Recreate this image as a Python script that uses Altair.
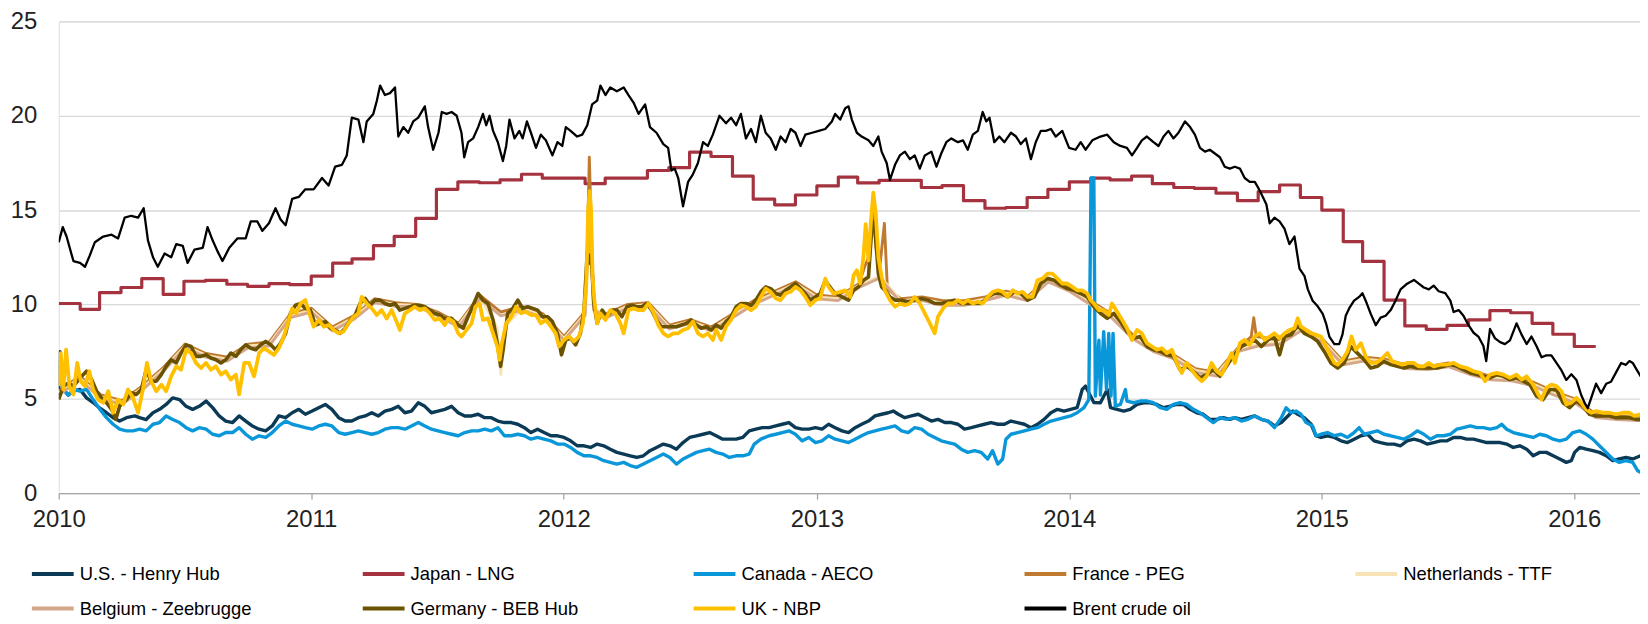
import altair as alt
import numpy as np
import pandas as pd

SERIES = ["U.S. - Henry Hub", "Japan - LNG", "Canada - AECO", "France - PEG",
          "Netherlands - TTF", "Belgium - Zeebrugge", "Germany - BEB Hub",
          "UK - NBP", "Brent crude oil"]
COLORS = ["#0B3A56", "#A5333F", "#0A97D9", "#C07A30", "#F7E3B5",
          "#D4A68A", "#6A5200", "#FFC000", "#000000"]

# (decimal year, value) readings
brent = [
 (2010.000,13.3),(2010.016,14.1),(2010.031,13.6),(2010.058,12.3),(2010.084,12.2),(2010.104,12.0),
 (2010.123,12.6),(2010.143,13.3),(2010.176,13.6),(2010.209,13.7),(2010.235,13.5),(2010.261,14.6),
 (2010.287,14.7),(2010.314,14.6),(2010.336,15.1),(2010.353,13.4),(2010.373,12.5),(2010.392,12.0),
 (2010.419,12.7),(2010.445,12.5),(2010.465,13.2),(2010.491,13.1),(2010.510,12.2),(2010.537,12.9),
 (2010.570,13.0),(2010.589,14.1),(2010.609,13.4),(2010.629,12.8),(2010.648,12.3),(2010.675,13.0),
 (2010.707,13.5),(2010.740,13.5),(2010.760,14.4),(2010.786,14.4),(2010.806,13.9),(2010.832,14.3),
 (2010.858,15.1),(2010.878,14.5),(2010.898,14.2),(2010.924,15.6),(2010.950,15.7),(2010.976,16.1),
 (2011.009,16.1),(2011.042,16.7),(2011.068,16.3),(2011.094,17.3),(2011.121,17.4),(2011.140,17.9),
 (2011.160,19.9),(2011.186,19.8),(2011.206,18.6),(2011.219,19.7),(2011.245,20.1),(2011.259,20.8),
 (2011.272,21.6),(2011.291,21.1),(2011.311,21.2),(2011.331,21.5),(2011.344,18.9),(2011.364,19.4),
 (2011.383,19.1),(2011.403,19.7),(2011.423,19.9),(2011.449,20.5),(2011.462,19.4),(2011.482,18.2),
 (2011.503,19.1),(2011.516,20.2),(2011.535,20.1),(2011.555,20.2),(2011.575,20.0),(2011.594,19.1),
 (2011.605,17.8),(2011.620,18.6),(2011.640,18.8),(2011.660,19.4),(2011.679,20.1),(2011.692,19.5),
 (2011.705,20.0),(2011.719,19.2),(2011.738,18.6),(2011.758,17.6),(2011.771,18.4),(2011.784,19.8),
 (2011.804,18.8),(2011.823,19.2),(2011.836,18.8),(2011.853,19.7),(2011.869,19.1),(2011.889,18.3),
 (2011.908,19.0),(2011.928,18.7),(2011.954,17.9),(2011.974,18.6),(2011.993,18.4),(2012.007,19.4),
 (2012.026,19.2),(2012.052,18.9),(2012.072,19.0),(2012.092,19.5),(2012.111,20.6),(2012.131,20.8),
 (2012.144,21.6),(2012.164,21.1),(2012.183,21.5),(2012.209,21.3),(2012.236,21.5),(2012.255,21.1),
 (2012.275,20.7),(2012.295,20.1),(2012.321,20.6),(2012.340,19.4),(2012.366,19.1),(2012.393,18.5),
 (2012.412,18.3),(2012.425,17.1),(2012.438,17.2),(2012.452,16.7),(2012.471,15.2),(2012.491,16.5),
 (2012.510,16.9),(2012.530,17.5),(2012.550,18.6),(2012.569,18.4),(2012.589,19.0),(2012.615,20.0),
 (2012.641,19.6),(2012.661,19.9),(2012.681,19.5),(2012.700,20.1),(2012.720,18.8),(2012.740,19.3),
 (2012.759,18.6),(2012.779,20.0),(2012.798,19.1),(2012.818,18.8),(2012.838,18.2),(2012.857,18.9),
 (2012.877,18.6),(2012.897,19.3),(2012.916,19.1),(2012.936,18.4),(2012.955,19.0),(2012.982,19.1),
 (2013.008,19.2),(2013.034,19.3),(2013.060,19.7),(2013.073,20.1),(2013.093,19.8),(2013.113,20.4),
 (2013.126,20.5),(2013.139,19.8),(2013.159,19.1),(2013.178,18.9),(2013.205,18.7),(2013.224,18.4),
 (2013.244,18.9),(2013.257,18.1),(2013.277,17.5),(2013.290,16.6),(2013.310,17.4),(2013.329,17.9),
 (2013.349,18.1),(2013.369,17.7),(2013.388,17.9),(2013.408,17.2),(2013.428,17.9),(2013.454,18.1),
 (2013.474,17.3),(2013.493,18.0),(2013.513,18.6),(2013.533,18.8),(2013.559,18.6),(2013.579,18.7),
 (2013.598,18.2),(2013.618,19.0),(2013.638,19.2),(2013.657,20.2),(2013.671,19.7),(2013.684,19.9),
 (2013.703,18.6),(2013.723,18.9),(2013.743,18.6),(2013.769,19.1),(2013.789,18.9),(2013.808,18.5),
 (2013.828,18.8),(2013.848,17.7),(2013.867,18.6),(2013.887,19.2),(2013.907,19.2),(2013.927,19.3),
 (2013.946,18.9),(2013.972,19.2),(2013.999,18.3),(2014.025,18.2),(2014.045,18.6),(2014.064,18.2),
 (2014.091,18.7),(2014.123,18.9),(2014.150,19.0),(2014.176,18.6),(2014.202,18.4),(2014.228,18.3),
 (2014.248,17.9),(2014.268,18.3),(2014.287,18.7),(2014.307,18.9),(2014.333,18.6),(2014.353,18.4),
 (2014.373,18.9),(2014.392,19.2),(2014.412,18.8),(2014.432,19.1),(2014.458,19.7),(2014.478,19.4),
 (2014.497,19.0),(2014.517,18.3),(2014.537,18.1),(2014.556,18.2),(2014.576,18.0),(2014.596,17.8),
 (2014.615,17.3),(2014.635,17.2),(2014.655,17.3),(2014.675,17.2),(2014.694,16.7),(2014.714,16.5),
 (2014.734,16.5),(2014.747,16.2),(2014.766,15.7),(2014.780,15.3),(2014.793,14.3),(2014.812,14.6),
 (2014.832,14.4),(2014.852,14.0),(2014.871,13.2),(2014.891,13.6),(2014.911,11.9),(2014.931,11.5),
 (2014.944,10.8),(2014.963,10.2),(2014.983,9.9),(2015.003,9.5),(2015.016,9.0),(2015.029,8.3),
 (2015.049,7.9),(2015.068,7.9),(2015.081,8.4),(2015.094,9.4),(2015.108,9.8),(2015.127,10.2),
 (2015.147,10.4),(2015.160,10.6),(2015.173,10.2),(2015.193,9.5),(2015.213,8.9),(2015.232,9.3),
 (2015.252,9.4),(2015.272,9.7),(2015.291,10.2),(2015.311,10.8),(2015.337,11.1),(2015.364,11.3),
 (2015.383,11.1),(2015.403,10.9),(2015.423,10.8),(2015.442,11.0),(2015.462,10.7),(2015.488,10.6),
 (2015.508,10.2),(2015.521,9.6),(2015.541,9.7),(2015.560,9.4),(2015.580,8.9),(2015.600,8.5),
 (2015.619,8.3),(2015.639,7.8),(2015.650,7.0),(2015.665,8.7),(2015.685,8.2),(2015.705,8.0),
 (2015.724,7.9),(2015.744,8.1),(2015.770,9.0),(2015.790,8.4),(2015.810,7.9),(2015.829,8.3),
 (2015.849,7.8),(2015.869,7.2),(2015.888,7.3),(2015.908,7.3),(2015.928,6.9),(2015.948,6.5),
 (2015.967,6.0),(2015.987,6.3),(2016.007,6.0),(2016.026,5.2),(2016.039,4.8),(2016.052,4.5),
 (2016.072,5.3),(2016.085,5.8),(2016.105,5.3),(2016.125,5.8),(2016.144,5.9),(2016.164,6.4),
 (2016.184,6.9),(2016.203,6.8),(2016.217,7.0),(2016.230,6.9),(2016.243,6.6),(2016.261,6.2),
 (2016.280,6.0)]

henry_hub = [
 (2010.000,5.5),(2010.005,7.5),(2010.018,5.5),(2010.038,5.2),(2010.058,5.4),(2010.084,5.5),
 (2010.110,5.05),(2010.136,4.8),(2010.163,4.5),(2010.189,4.26),(2010.215,4.0),(2010.241,3.82),
 (2010.268,4.0),(2010.301,4.09),(2010.320,4.0),(2010.346,3.9),(2010.373,4.26),(2010.399,4.44),
 (2010.425,4.7),(2010.451,5.05),(2010.478,4.96),(2010.504,4.6),(2010.530,4.44),(2010.556,4.6),
 (2010.583,4.88),(2010.609,4.53),(2010.635,4.09),(2010.661,3.82),(2010.688,3.74),(2010.714,4.09),
 (2010.740,3.82),(2010.766,3.56),(2010.793,3.39),(2010.819,3.3),(2010.845,3.56),(2010.871,4.09),
 (2010.898,4.0),(2010.924,4.26),(2010.950,4.44),(2010.976,4.18),(2011.003,4.35),(2011.029,4.53),
 (2011.055,4.7),(2011.081,4.44),(2011.108,4.0),(2011.134,3.82),(2011.160,3.82),(2011.186,4.0),
 (2011.213,4.09),(2011.239,4.26),(2011.265,4.09),(2011.291,4.35),(2011.318,4.44),(2011.344,4.6),
 (2011.370,4.26),(2011.396,4.35),(2011.423,4.79),(2011.449,4.6),(2011.475,4.26),(2011.501,4.35),
 (2011.528,4.44),(2011.555,4.6),(2011.581,4.26),(2011.607,4.09),(2011.634,4.09),(2011.660,4.18),
 (2011.686,4.0),(2011.712,4.0),(2011.738,3.82),(2011.764,3.74),(2011.791,3.74),(2011.817,3.65),
 (2011.843,3.47),(2011.869,3.21),(2011.895,3.39),(2011.921,3.21),(2011.948,3.04),(2011.974,3.04),
 (2012.000,2.95),(2012.026,2.77),(2012.052,2.51),(2012.079,2.51),(2012.105,2.42),(2012.131,2.6),
 (2012.157,2.51),(2012.183,2.33),(2012.209,2.16),(2012.236,2.07),(2012.262,1.98),(2012.288,1.89),
 (2012.314,1.98),(2012.340,2.25),(2012.366,2.42),(2012.393,2.6),(2012.419,2.51),(2012.445,2.33),
 (2012.471,2.68),(2012.497,2.95),(2012.524,3.04),(2012.550,3.12),(2012.576,3.21),(2012.602,3.04),
 (2012.628,2.86),(2012.654,2.86),(2012.681,2.86),(2012.707,2.95),(2012.733,3.3),(2012.759,3.39),
 (2012.785,3.47),(2012.812,3.47),(2012.838,3.56),(2012.864,3.65),(2012.890,3.74),(2012.916,3.47),
 (2012.942,3.39),(2012.969,3.39),(2012.995,3.47),(2013.021,3.39),(2013.047,3.65),(2013.073,3.47),
 (2013.100,3.3),(2013.126,3.21),(2013.152,3.47),(2013.178,3.65),(2013.205,3.82),(2013.231,4.09),
 (2013.257,4.18),(2013.283,4.26),(2013.303,4.35),(2013.323,4.18),(2013.349,4.0),(2013.375,4.09),
 (2013.402,4.18),(2013.428,4.0),(2013.454,3.82),(2013.480,3.91),(2013.507,3.74),(2013.533,3.74),
 (2013.559,3.65),(2013.585,3.39),(2013.612,3.47),(2013.638,3.56),(2013.664,3.65),(2013.690,3.74),
 (2013.717,3.65),(2013.743,3.65),(2013.769,3.82),(2013.795,3.74),(2013.822,3.65),(2013.848,3.47),
 (2013.874,3.65),(2013.900,3.91),(2013.927,4.26),(2013.953,4.44),(2013.979,4.35),(2014.005,4.44),
 (2014.031,4.53),(2014.051,5.49),(2014.064,5.67),(2014.077,5.32),(2014.097,4.8),(2014.123,4.79),
 (2014.150,5.49),(2014.163,4.53),(2014.189,4.44),(2014.215,4.35),(2014.241,4.44),(2014.268,4.7),
 (2014.294,4.79),(2014.320,4.79),(2014.346,4.7),(2014.373,4.53),(2014.399,4.61),(2014.425,4.7),
 (2014.451,4.7),(2014.478,4.44),(2014.504,4.26),(2014.530,4.18),(2014.556,3.91),(2014.583,3.91),
 (2014.609,4.0),(2014.635,3.91),(2014.655,4.0),(2014.681,3.91),(2014.707,4.0),(2014.734,4.09),
 (2014.760,3.91),(2014.786,3.82),(2014.812,3.56),(2014.839,3.74),(2014.865,4.09),(2014.885,4.35),
 (2014.904,4.18),(2014.930,4.0),(2014.957,3.65),(2014.976,3.04),(2014.996,2.95),(2015.022,3.04),
 (2015.049,2.95),(2015.075,2.77),(2015.101,2.68),(2015.127,2.86),(2015.154,3.04),(2015.180,3.12),
 (2015.206,2.77),(2015.232,2.68),(2015.259,2.6),(2015.285,2.6),(2015.311,2.51),(2015.337,2.77),
 (2015.364,2.86),(2015.390,2.77),(2015.416,2.6),(2015.442,2.68),(2015.469,2.77),(2015.495,2.77),
 (2015.521,2.95),(2015.547,2.95),(2015.573,2.86),(2015.600,2.86),(2015.626,2.77),(2015.652,2.68),
 (2015.678,2.68),(2015.705,2.68),(2015.731,2.6),(2015.757,2.42),(2015.783,2.51),(2015.810,2.33),
 (2015.836,1.98),(2015.862,2.16),(2015.888,2.16),(2015.915,1.98),(2015.941,1.81),(2015.967,1.63),
 (2015.987,1.72),(2016.000,2.16),(2016.020,2.42),(2016.046,2.33),(2016.072,2.25),(2016.098,2.16),
 (2016.125,1.98),(2016.151,1.72),(2016.177,1.81),(2016.203,1.89),(2016.230,1.81),(2016.261,1.98),
 (2016.280,1.98)]

aeco = [
 (2010.000,5.2),(2010.018,5.5),(2010.038,5.2),(2010.058,5.5),(2010.084,5.4),(2010.110,5.5),
 (2010.136,4.96),(2010.163,4.44),(2010.189,4.0),(2010.215,3.65),(2010.241,3.39),(2010.268,3.3),
 (2010.294,3.3),(2010.320,3.39),(2010.346,3.3),(2010.373,3.65),(2010.399,3.74),(2010.425,4.09),
 (2010.451,3.9),(2010.478,3.74),(2010.504,3.47),(2010.530,3.3),(2010.556,3.47),(2010.583,3.39),
 (2010.609,3.12),(2010.635,3.04),(2010.661,3.21),(2010.688,3.21),(2010.714,3.47),(2010.740,3.12),
 (2010.766,2.86),(2010.793,3.04),(2010.819,2.95),(2010.845,3.21),(2010.871,3.56),(2010.898,3.82),
 (2010.924,3.65),(2010.950,3.56),(2010.976,3.47),(2011.003,3.39),(2011.029,3.56),(2011.055,3.65),
 (2011.081,3.56),(2011.108,3.21),(2011.134,3.12),(2011.160,3.21),(2011.186,3.3),(2011.213,3.21),
 (2011.239,3.12),(2011.265,3.21),(2011.291,3.39),(2011.318,3.47),(2011.344,3.47),(2011.370,3.39),
 (2011.396,3.56),(2011.423,3.74),(2011.449,3.56),(2011.475,3.39),(2011.501,3.3),(2011.528,3.21),
 (2011.555,3.12),(2011.581,3.04),(2011.607,3.21),(2011.634,3.3),(2011.660,3.3),(2011.686,3.39),
 (2011.712,3.3),(2011.738,3.47),(2011.764,3.04),(2011.791,3.04),(2011.817,3.12),(2011.843,3.04),
 (2011.869,2.86),(2011.895,2.95),(2011.921,2.86),(2011.948,2.77),(2011.974,2.6),(2012.000,2.6),
 (2012.026,2.42),(2012.052,2.16),(2012.079,1.98),(2012.105,1.98),(2012.131,1.89),(2012.157,1.72),
 (2012.183,1.63),(2012.209,1.54),(2012.236,1.63),(2012.262,1.46),(2012.288,1.37),(2012.314,1.54),
 (2012.340,1.72),(2012.366,1.89),(2012.393,2.07),(2012.419,1.89),(2012.445,1.54),(2012.471,1.81),
 (2012.497,1.98),(2012.524,2.16),(2012.550,2.25),(2012.576,2.33),(2012.602,2.16),(2012.628,2.07),
 (2012.654,1.89),(2012.681,1.98),(2012.707,1.98),(2012.733,2.07),(2012.753,2.6),(2012.779,2.86),
 (2012.812,3.04),(2012.838,3.12),(2012.864,3.21),(2012.890,3.3),(2012.916,3.12),(2012.942,2.77),
 (2012.969,2.95),(2012.995,2.68),(2013.021,2.77),(2013.047,3.04),(2013.073,2.86),(2013.100,2.77),
 (2013.126,2.68),(2013.152,2.86),(2013.178,3.04),(2013.205,3.21),(2013.231,3.3),(2013.257,3.39),
 (2013.283,3.47),(2013.310,3.56),(2013.336,3.3),(2013.362,3.21),(2013.388,3.47),(2013.415,3.39),
 (2013.441,3.12),(2013.467,2.95),(2013.493,2.77),(2013.520,2.68),(2013.546,2.6),(2013.572,2.33),
 (2013.598,2.16),(2013.625,2.25),(2013.651,2.16),(2013.677,1.81),(2013.696,2.25),(2013.717,1.54),
 (2013.736,1.81),(2013.749,2.86),(2013.769,3.12),(2013.795,3.21),(2013.822,3.3),(2013.848,3.39),
 (2013.874,3.47),(2013.900,3.65),(2013.927,3.82),(2013.953,3.91),(2013.979,4.0),(2014.005,4.09),
 (2014.031,4.26),(2014.058,4.53),(2014.077,4.96),(2014.086,16.7),(2014.097,16.7),(2014.103,5.14),
 (2014.117,8.1),(2014.123,5.2),(2014.136,8.56),(2014.147,5.5),(2014.156,8.47),(2014.165,5.14),
 (2014.173,8.47),(2014.182,4.61),(2014.202,4.7),(2014.222,5.49),(2014.228,4.88),(2014.255,4.79),
 (2014.281,4.88),(2014.307,4.88),(2014.333,4.79),(2014.360,4.53),(2014.386,4.44),(2014.412,4.7),
 (2014.438,4.79),(2014.465,4.7),(2014.491,4.44),(2014.517,4.26),(2014.543,4.0),(2014.570,3.74),
 (2014.596,4.0),(2014.622,3.91),(2014.655,4.0),(2014.681,3.82),(2014.707,3.91),(2014.734,4.09),
 (2014.760,3.91),(2014.786,3.82),(2014.812,3.47),(2014.839,4.0),(2014.858,4.53),(2014.878,4.26),
 (2014.898,4.35),(2014.917,4.18),(2014.937,3.74),(2014.963,3.56),(2014.976,3.04),(2014.996,3.12),
 (2015.022,3.21),(2015.049,3.04),(2015.075,3.12),(2015.101,2.95),(2015.127,3.21),(2015.147,3.47),
 (2015.167,3.12),(2015.193,3.21),(2015.219,3.3),(2015.245,3.12),(2015.272,3.04),(2015.298,2.95),
 (2015.324,2.86),(2015.350,3.04),(2015.377,3.3),(2015.403,3.12),(2015.429,2.86),(2015.455,3.04),
 (2015.482,3.04),(2015.508,3.12),(2015.534,3.39),(2015.560,3.47),(2015.587,3.56),(2015.613,3.47),
 (2015.639,3.47),(2015.665,3.39),(2015.692,3.47),(2015.711,3.65),(2015.731,3.39),(2015.757,3.21),
 (2015.783,3.12),(2015.810,3.04),(2015.836,2.95),(2015.862,3.12),(2015.888,3.04),(2015.915,2.86),
 (2015.941,2.77),(2015.967,2.86),(2015.993,3.21),(2016.020,3.3),(2016.046,3.12),(2016.072,2.86),
 (2016.098,2.51),(2016.125,2.16),(2016.151,1.81),(2016.177,1.63),(2016.203,1.72),(2016.230,1.63),
 (2016.249,1.19),(2016.261,1.1),(2016.280,1.1)]

uk_nbp = [
 (2010.000,5.67),(2010.008,7.42),(2010.018,5.49),(2010.029,7.6),(2010.042,5.67),(2010.058,5.23),
 (2010.073,6.9),(2010.087,5.93),(2010.104,5.67),(2010.121,6.46),(2010.136,5.49),(2010.156,4.96),
 (2010.176,4.79),(2010.196,5.4),(2010.215,4.26),(2010.235,4.96),(2010.255,4.7),(2010.274,5.49),
 (2010.294,5.05),(2010.314,4.26),(2010.333,5.49),(2010.349,6.9),(2010.366,5.93),(2010.386,5.4),
 (2010.406,5.75),(2010.425,5.4),(2010.445,6.19),(2010.465,6.72),(2010.484,6.54),(2010.504,7.6),
 (2010.524,7.42),(2010.543,6.9),(2010.563,6.63),(2010.583,6.9),(2010.602,6.54),(2010.622,6.72),
 (2010.642,6.28),(2010.661,6.46),(2010.681,6.02),(2010.701,6.28),(2010.714,5.23),(2010.734,6.9),
 (2010.753,6.9),(2010.773,6.19),(2010.793,7.42),(2010.812,7.68),(2010.832,7.51),(2010.852,7.33),
 (2010.871,7.68),(2010.891,8.3),(2010.911,9.18),(2010.924,9.79),(2010.940,9.53),(2010.957,10.05),
 (2010.976,10.23),(2010.996,9.35),(2011.009,8.82),(2011.029,9.18),(2011.049,8.82),(2011.068,8.91),
 (2011.088,8.65),(2011.108,8.47),(2011.127,8.56),(2011.147,9.0),(2011.167,9.35),(2011.186,9.53),
 (2011.199,10.4),(2011.219,10.05),(2011.239,9.79),(2011.259,9.44),(2011.278,9.7),(2011.298,9.26),
 (2011.318,9.7),(2011.337,9.09),(2011.350,8.65),(2011.370,9.53),(2011.390,9.7),(2011.409,9.88),
 (2011.429,9.7),(2011.449,9.79),(2011.469,9.53),(2011.488,9.18),(2011.508,9.26),(2011.528,8.91),
 (2011.542,9.26),(2011.562,9.09),(2011.581,8.47),(2011.594,8.3),(2011.614,8.65),(2011.634,9.0),
 (2011.649,9.88),(2011.666,10.05),(2011.679,9.18),(2011.699,9.26),(2011.719,8.47),(2011.736,7.77),
 (2011.745,7.07),(2011.754,7.95),(2011.771,9.0),(2011.791,9.35),(2011.810,9.88),(2011.830,9.53),
 (2011.849,9.61),(2011.869,9.44),(2011.889,9.44),(2011.908,9.0),(2011.928,9.18),(2011.948,8.82),
 (2011.967,8.47),(2011.980,7.77),(2012.000,8.12),(2012.020,8.3),(2012.039,8.04),(2012.059,8.3),
 (2012.075,9.0),(2012.088,11.1),(2012.096,15.2),(2012.102,16.0),(2012.107,14.96),(2012.113,11.46),
 (2012.120,10.23),(2012.131,9.0),(2012.144,9.53),(2012.164,9.18),(2012.183,9.7),(2012.203,9.53),
 (2012.223,9.0),(2012.236,8.47),(2012.255,9.7),(2012.275,9.79),(2012.295,9.7),(2012.314,9.7),
 (2012.334,10.05),(2012.353,9.61),(2012.373,8.91),(2012.393,8.47),(2012.412,8.3),(2012.432,8.47),
 (2012.452,8.47),(2012.471,8.65),(2012.491,8.74),(2012.510,9.09),(2012.530,8.47),(2012.550,8.3),
 (2012.569,8.47),(2012.589,8.12),(2012.602,8.65),(2012.622,8.12),(2012.641,8.82),(2012.661,9.18),
 (2012.681,9.7),(2012.700,9.96),(2012.720,9.88),(2012.740,9.7),(2012.759,9.88),(2012.779,10.4),
 (2012.798,10.84),(2012.818,10.67),(2012.838,10.32),(2012.857,10.23),(2012.877,10.58),(2012.897,10.67),
 (2012.916,10.93),(2012.936,10.75),(2012.955,10.4),(2012.975,9.96),(2012.995,10.23),(2013.014,10.32),
 (2013.034,11.37),(2013.047,10.93),(2013.067,10.58),(2013.093,10.67),(2013.113,10.75),(2013.133,10.4),
 (2013.146,11.54),(2013.159,11.81),(2013.172,11.11),(2013.185,12.51),(2013.194,14.26),(2013.205,12.33),
 (2013.215,14.44),(2013.224,15.93),(2013.234,14.79),(2013.244,12.51),(2013.257,11.46),(2013.270,10.75),
 (2013.290,10.23),(2013.310,9.88),(2013.329,10.05),(2013.349,9.96),(2013.369,10.05),(2013.388,10.4),
 (2013.408,10.05),(2013.428,9.53),(2013.448,9.0),(2013.467,8.47),(2013.480,9.35),(2013.500,9.79),
 (2013.520,10.05),(2013.539,10.05),(2013.559,10.23),(2013.579,10.05),(2013.598,10.23),(2013.618,10.05),
 (2013.638,10.14),(2013.657,10.05),(2013.677,10.4),(2013.697,10.67),(2013.717,10.75),(2013.736,10.67),
 (2013.756,10.4),(2013.776,10.75),(2013.795,10.58),(2013.815,10.67),(2013.835,10.4),(2013.854,10.4),
 (2013.874,11.28),(2013.894,11.37),(2013.913,11.63),(2013.933,11.63),(2013.953,11.37),(2013.972,11.11),
 (2013.992,11.11),(2014.012,10.93),(2014.031,10.75),(2014.051,10.75),(2014.071,10.58),(2014.084,10.23),
 (2014.097,10.05),(2014.117,9.7),(2014.136,9.7),(2014.156,9.44),(2014.169,10.05),(2014.189,9.61),
 (2014.209,9.18),(2014.228,8.74),(2014.248,8.12),(2014.268,8.65),(2014.287,8.47),(2014.307,7.95),
 (2014.327,7.77),(2014.346,7.6),(2014.366,7.68),(2014.386,7.42),(2014.406,7.6),(2014.425,6.9),
 (2014.445,6.37),(2014.465,6.9),(2014.484,6.54),(2014.504,6.19),(2014.524,5.93),(2014.543,6.19),
 (2014.563,6.9),(2014.583,6.46),(2014.602,6.28),(2014.622,6.81),(2014.642,7.42),(2014.655,6.9),
 (2014.675,7.95),(2014.694,8.12),(2014.714,7.86),(2014.734,8.3),(2014.753,8.47),(2014.773,8.12),
 (2014.793,8.3),(2014.812,8.47),(2014.832,8.21),(2014.852,8.47),(2014.871,8.65),(2014.891,8.74),
 (2014.904,9.26),(2014.917,8.82),(2014.937,8.65),(2014.957,8.47),(2014.976,8.39),(2014.996,8.3),
 (2015.016,7.77),(2015.035,7.25),(2015.049,6.9),(2015.062,6.81),(2015.081,7.07),(2015.101,7.51),
 (2015.117,8.3),(2015.134,7.6),(2015.154,7.95),(2015.173,7.25),(2015.193,6.9),(2015.213,6.9),
 (2015.232,7.07),(2015.259,7.42),(2015.278,6.98),(2015.298,6.9),(2015.318,6.81),(2015.337,6.9),
 (2015.364,6.9),(2015.383,6.72),(2015.403,6.72),(2015.423,6.9),(2015.442,6.72),(2015.469,6.81),
 (2015.495,6.81),(2015.521,6.9),(2015.547,6.72),(2015.573,6.63),(2015.600,6.46),(2015.626,6.37),
 (2015.646,5.93),(2015.665,6.28),(2015.692,6.37),(2015.718,6.28),(2015.744,6.11),(2015.770,6.28),
 (2015.790,6.02),(2015.810,6.19),(2015.836,5.75),(2015.856,5.23),(2015.869,4.96),(2015.888,5.58),
 (2015.908,5.75),(2015.928,5.67),(2015.948,5.4),(2015.967,4.7),(2015.987,4.79),(2016.007,5.05),
 (2016.026,4.79),(2016.046,4.44),(2016.066,4.26),(2016.085,4.35),(2016.112,4.26),(2016.138,4.26),
 (2016.164,4.18),(2016.190,4.26),(2016.217,4.26),(2016.236,4.09),(2016.261,4.18),(2016.280,4.1)]

germany = [
 (2010.000,4.96),(2010.018,5.67),(2010.038,5.84),(2010.058,5.67),(2010.084,6.1),(2010.110,6.46),
 (2010.130,6.02),(2010.150,5.4),(2010.169,5.05),(2010.189,4.79),(2010.209,4.44),(2010.226,3.91),
 (2010.241,4.61),(2010.268,4.96),(2010.287,5.32),(2010.307,5.23),(2010.327,5.49),(2010.346,6.54),
 (2010.366,5.93),(2010.386,5.93),(2010.406,6.28),(2010.425,6.72),(2010.445,7.07),(2010.465,6.9),
 (2010.484,7.42),(2010.504,7.86),(2010.524,7.77),(2010.543,7.25),(2010.563,7.25),(2010.583,7.33),
 (2010.602,7.16),(2010.622,7.07),(2010.642,6.9),(2010.661,7.07),(2010.681,7.42),(2010.701,7.25),
 (2010.720,7.6),(2010.740,7.86),(2010.760,7.68),(2010.780,7.6),(2010.799,7.86),(2010.819,8.04),
 (2010.839,7.86),(2010.858,7.6),(2010.878,7.95),(2010.898,8.47),(2010.917,9.53),(2010.937,9.96),
 (2010.957,10.05),(2010.976,9.79),(2010.996,9.7),(2011.016,8.91),(2011.035,9.0),(2011.055,9.09),
 (2011.075,8.74),(2011.094,8.65),(2011.114,8.47),(2011.134,8.74),(2011.154,9.18),(2011.173,9.44),
 (2011.193,10.05),(2011.213,10.32),(2011.232,9.96),(2011.252,10.23),(2011.272,10.23),(2011.291,10.05),
 (2011.311,9.96),(2011.331,10.05),(2011.350,9.7),(2011.370,9.79),(2011.390,9.88),(2011.409,9.96),
 (2011.429,9.96),(2011.449,9.88),(2011.469,9.7),(2011.488,9.53),(2011.508,9.44),(2011.528,9.26),
 (2011.555,9.26),(2011.581,8.91),(2011.601,8.74),(2011.620,9.35),(2011.640,9.96),(2011.660,10.58),
 (2011.679,10.23),(2011.699,10.05),(2011.719,9.18),(2011.738,7.77),(2011.749,6.72),(2011.759,7.6),
 (2011.777,9.53),(2011.797,9.79),(2011.817,10.23),(2011.836,9.79),(2011.856,9.88),(2011.876,9.79),
 (2011.895,9.7),(2011.915,9.35),(2011.935,9.35),(2011.954,9.09),(2011.974,8.47),(2011.990,7.33),
 (2012.007,8.12),(2012.026,8.21),(2012.046,7.86),(2012.065,8.47),(2012.079,9.7),(2012.092,12.77),
 (2012.099,12.2),(2012.105,12.6),(2012.111,11.81),(2012.118,10.05),(2012.131,9.0),(2012.151,9.7),
 (2012.170,9.35),(2012.190,9.7),(2012.209,9.7),(2012.229,9.35),(2012.249,9.88),(2012.268,9.96),
 (2012.288,9.88),(2012.308,9.88),(2012.327,10.05),(2012.347,9.7),(2012.366,9.18),(2012.386,8.82),
 (2012.406,8.82),(2012.425,8.82),(2012.445,8.82),(2012.465,8.91),(2012.484,9.0),(2012.504,9.18),
 (2012.524,8.91),(2012.543,8.74),(2012.563,8.82),(2012.582,8.65),(2012.602,8.91),(2012.622,8.74),
 (2012.641,9.09),(2012.661,9.35),(2012.681,9.88),(2012.700,10.05),(2012.720,10.05),(2012.740,9.96),
 (2012.759,10.23),(2012.779,10.67),(2012.798,10.93),(2012.818,10.84),(2012.838,10.58),(2012.857,10.49),
 (2012.877,10.75),(2012.897,10.93),(2012.916,11.11),(2012.936,10.84),(2012.955,10.58),(2012.975,10.23),
 (2012.995,10.4),(2013.014,10.58),(2013.034,11.28),(2013.047,11.02),(2013.067,10.67),(2013.100,10.4),
 (2013.126,10.23),(2013.146,10.75),(2013.165,10.93),(2013.185,11.28),(2013.205,11.46),(2013.220,14.44),
 (2013.231,13.91),(2013.244,11.63),(2013.257,10.93),(2013.270,10.75),(2013.290,10.4),(2013.310,10.23),
 (2013.336,10.23),(2013.362,10.14),(2013.388,10.23),(2013.415,10.32),(2013.441,10.23),(2013.467,10.05),
 (2013.493,10.05),(2013.520,10.14),(2013.546,10.23),(2013.572,10.05),(2013.598,10.05),(2013.625,10.05),
 (2013.651,10.05),(2013.677,10.4),(2013.703,10.58),(2013.730,10.58),(2013.756,10.4),(2013.782,10.67),
 (2013.808,10.58),(2013.835,10.23),(2013.861,10.4),(2013.887,11.11),(2013.913,11.37),(2013.940,11.28),
 (2013.966,11.02),(2013.992,10.84),(2014.018,10.75),(2014.045,10.58),(2014.071,10.4),(2014.097,9.88),
 (2014.123,9.53),(2014.150,9.26),(2014.176,9.53),(2014.202,9.09),(2014.228,8.56),(2014.255,8.21),
 (2014.281,8.3),(2014.307,7.77),(2014.333,7.6),(2014.360,7.51),(2014.386,7.33),(2014.412,7.25),
 (2014.438,6.54),(2014.465,6.72),(2014.491,6.46),(2014.517,6.11),(2014.543,6.28),(2014.570,6.54),
 (2014.596,6.19),(2014.622,6.72),(2014.648,7.25),(2014.681,7.77),(2014.707,7.95),(2014.734,8.12),
 (2014.760,7.77),(2014.786,8.12),(2014.812,8.3),(2014.832,7.33),(2014.852,8.3),(2014.878,8.39),
 (2014.904,8.91),(2014.930,8.47),(2014.957,8.3),(2014.983,8.04),(2015.009,7.51),(2015.035,6.9),
 (2015.062,6.63),(2015.088,6.9),(2015.114,7.77),(2015.140,7.42),(2015.167,7.07),(2015.193,6.63),
 (2015.219,6.72),(2015.245,6.98),(2015.272,6.81),(2015.298,6.72),(2015.324,6.63),(2015.350,6.72),
 (2015.377,6.63),(2015.403,6.63),(2015.429,6.63),(2015.455,6.63),(2015.482,6.72),(2015.508,6.81),
 (2015.534,6.72),(2015.560,6.54),(2015.587,6.37),(2015.613,6.28),(2015.639,6.19),(2015.665,6.11),
 (2015.692,6.28),(2015.718,6.19),(2015.744,6.02),(2015.770,6.11),(2015.797,5.93),(2015.823,5.75),
 (2015.849,5.14),(2015.875,4.96),(2015.902,5.49),(2015.928,5.49),(2015.954,4.79),(2015.980,4.53),
 (2016.007,4.88),(2016.033,4.61),(2016.059,4.18),(2016.085,4.09),(2016.112,4.09),(2016.138,4.09),
 (2016.164,4.0),(2016.190,4.0),(2016.217,4.0),(2016.243,3.91),(2016.261,3.91),(2016.280,3.9)]

# monthly readings (first of each month, Jan 2010 onward) plus visible spikes
france = [
 (2010.000,5.4),(2010.083,6.2),(2010.167,5.2),(2010.250,4.9),(2010.333,5.7),(2010.417,6.7),
 (2010.500,7.9),(2010.583,7.4),(2010.667,7.2),(2010.750,7.9),(2010.833,8.0),(2010.917,9.5),
 (2011.000,9.8),(2011.083,8.8),(2011.167,9.4),(2011.250,10.3),(2011.333,10.1),(2011.417,10.0),
 (2011.500,9.6),(2011.583,9.0),(2011.667,10.5),(2011.750,9.6),(2011.833,9.9),(2011.917,9.5),
 (2012.000,8.3),(2012.083,9.6),(2012.092,13.0),(2012.100,17.8),(2012.108,14.0),(2012.117,10.2),
 (2012.130,9.2),(2012.167,9.5),(2012.250,10.0),(2012.333,10.1),(2012.417,8.9),(2012.500,9.2),
 (2012.583,8.8),(2012.667,9.5),(2012.750,10.2),(2012.833,10.7),(2012.917,11.2),(2013.000,10.5),
 (2013.083,10.4),(2013.167,11.1),(2013.190,12.0),(2013.205,12.5),(2013.222,15.1),(2013.235,13.0),
 (2013.250,12.0),(2013.268,14.3),(2013.280,10.8),(2013.333,10.3),(2013.417,10.4),(2013.500,10.2),
 (2013.583,10.2),(2013.667,10.4),(2013.750,10.7),(2013.833,10.4),(2013.917,11.4),(2014.000,10.9),
 (2014.083,10.2),(2014.167,9.5),(2014.250,8.4),(2014.333,7.7),(2014.417,7.3),(2014.500,6.6),
 (2014.583,6.4),(2014.667,7.7),(2014.720,8.3),(2014.730,9.3),(2014.740,8.3),(2014.833,8.1),
 (2014.917,8.8),(2015.000,8.2),(2015.083,7.0),(2015.167,7.2),(2015.250,7.1),(2015.333,6.8),
 (2015.417,6.7),(2015.500,6.9),(2015.583,6.5),(2015.667,6.2),(2015.750,6.1),(2015.833,5.9),
 (2015.917,5.4),(2016.000,5.0),(2016.083,4.2),(2016.167,4.1),(2016.250,4.0),(2016.280,4.0)]

netherlands = [
 (2010.000,5.3),(2010.083,6.1),(2010.167,5.1),(2010.250,4.8),(2010.333,5.6),(2010.417,6.6),
 (2010.500,7.8),(2010.583,7.3),(2010.667,7.1),(2010.750,7.8),(2010.833,7.9),(2010.917,9.4),
 (2011.000,9.7),(2011.083,8.7),(2011.167,9.3),(2011.250,10.2),(2011.333,10.0),(2011.417,9.95),
 (2011.500,9.5),(2011.583,8.9),(2011.667,10.4),(2011.735,8.8),(2011.750,6.3),(2011.765,8.8),
 (2011.833,9.8),(2011.917,9.4),(2012.000,8.2),(2012.083,9.5),(2012.100,15.5),(2012.117,9.8),
 (2012.167,9.4),(2012.250,9.9),(2012.333,10.0),(2012.417,8.8),(2012.500,9.1),(2012.583,8.7),
 (2012.667,9.4),(2012.750,10.1),(2012.833,10.6),(2012.917,11.1),(2013.000,10.4),(2013.083,10.3),
 (2013.167,11.0),(2013.250,11.5),(2013.333,10.2),(2013.417,10.3),(2013.500,10.05),(2013.583,10.05),
 (2013.667,10.3),(2013.750,10.6),(2013.833,10.3),(2013.917,11.35),(2014.000,10.8),(2014.083,10.1),
 (2014.167,9.4),(2014.250,8.3),(2014.333,7.6),(2014.417,7.2),(2014.500,6.5),(2014.583,6.3),
 (2014.667,7.6),(2014.750,7.9),(2014.833,8.0),(2014.917,8.7),(2015.000,8.1),(2015.083,6.9),
 (2015.167,7.1),(2015.250,7.0),(2015.333,6.7),(2015.417,6.65),(2015.500,6.8),(2015.583,6.4),
 (2015.667,6.1),(2015.750,6.05),(2015.833,5.8),(2015.917,5.3),(2016.000,4.9),(2016.083,4.1),
 (2016.167,4.0),(2016.250,3.95),(2016.280,3.95)]

belgium = [
 (2010.000,5.2),(2010.083,6.0),(2010.167,5.0),(2010.250,4.7),(2010.333,5.5),(2010.417,6.5),
 (2010.500,7.7),(2010.583,7.2),(2010.667,7.0),(2010.750,7.7),(2010.833,7.8),(2010.917,9.3),
 (2011.000,9.6),(2011.083,8.6),(2011.167,9.2),(2011.250,10.1),(2011.333,9.9),(2011.417,9.9),
 (2011.500,9.4),(2011.583,8.8),(2011.667,10.3),(2011.750,9.4),(2011.833,9.7),(2011.917,9.3),
 (2012.000,8.1),(2012.083,9.4),(2012.100,14.5),(2012.117,9.7),(2012.167,9.3),(2012.250,9.8),
 (2012.333,9.9),(2012.417,8.7),(2012.500,9.0),(2012.583,8.6),(2012.667,9.3),(2012.750,10.0),
 (2012.833,10.5),(2012.917,11.0),(2013.000,10.3),(2013.083,10.2),(2013.167,10.9),(2013.250,11.4),
 (2013.333,10.1),(2013.417,10.2),(2013.500,9.95),(2013.583,9.95),(2013.667,10.2),(2013.750,10.5),
 (2013.833,10.2),(2013.917,11.2),(2014.000,10.7),(2014.083,10.0),(2014.167,9.3),(2014.250,8.2),
 (2014.333,7.5),(2014.417,7.1),(2014.500,6.4),(2014.583,6.2),(2014.667,7.5),(2014.750,7.8),
 (2014.833,7.9),(2014.917,8.6),(2015.000,8.0),(2015.083,6.8),(2015.167,7.0),(2015.250,6.9),
 (2015.333,6.6),(2015.417,6.55),(2015.500,6.7),(2015.583,6.3),(2015.667,6.0),(2015.750,5.95),
 (2015.833,5.7),(2015.917,5.2),(2016.000,4.8),(2016.083,4.0),(2016.167,3.9),(2016.250,3.85),
 (2016.280,3.85)]

# Japan LNG monthly step values, Jan 2010 .. Jan 2016
japan_lng = [
 10.05, 9.74, 10.63, 10.9, 11.37, 10.53, 11.23, 11.28, 11.07, 10.96, 11.1, 11.05,
 11.5, 12.19, 12.42, 13.12, 13.61, 14.56, 16.1, 16.5, 16.45, 16.6, 16.9, 16.7,
 16.7, 16.4, 16.7, 16.7, 17.1, 17.25, 18.07, 17.84, 16.8, 15.58, 15.28, 15.8,
 16.28, 16.75, 16.44, 16.58, 16.58, 16.2, 16.3, 15.5, 15.1, 15.14, 15.67, 16.1,
 16.5, 16.7, 16.6, 16.8, 16.4, 16.2, 16.15, 15.9, 15.5, 15.98, 16.33, 15.67,
 15.0, 13.33, 12.28, 10.23, 8.86, 8.68, 8.89, 9.18, 9.67, 9.56, 9.0, 8.42,
 7.77]

YEAR_TICKS = [2010, 2011, 2012, 2013, 2014, 2015, 2016]
Y_TICKS = [0, 5, 10, 15, 20, 25]


def frame(pairs, name):
    t = np.array([p[0] for p in pairs])
    v = [p[1] for p in pairs]
    d = pd.Timestamp("2010-01-01") + pd.to_timedelta((t - 2010.0) * 365.25, unit="D")
    return pd.DataFrame({"date": d, "value": v, "series": name})


jp_dates = list(pd.date_range("2010-01-01", periods=len(japan_lng), freq="MS"))
jp_dates.append(pd.Timestamp("2016-02-01"))
jp_df = pd.DataFrame({"date": jp_dates, "value": japan_lng + [japan_lng[-1]],
                      "series": "Japan - LNG"})

frames = {
    "U.S. - Henry Hub": frame(henry_hub, "U.S. - Henry Hub"),
    "Japan - LNG": jp_df,
    "Canada - AECO": frame(aeco, "Canada - AECO"),
    "France - PEG": frame(france, "France - PEG"),
    "Netherlands - TTF": frame(netherlands, "Netherlands - TTF"),
    "Belgium - Zeebrugge": frame(belgium, "Belgium - Zeebrugge"),
    "Germany - BEB Hub": frame(germany, "Germany - BEB Hub"),
    "UK - NBP": frame(uk_nbp, "UK - NBP"),
    "Brent crude oil": frame(brent, "Brent crude oil"),
}
widths = {"U.S. - Henry Hub": 3.4, "Japan - LNG": 3.2, "Canada - AECO": 3.4,
          "France - PEG": 2.9, "Netherlands - TTF": 2.9, "Belgium - Zeebrugge": 2.9,
          "Germany - BEB Hub": 3.6, "UK - NBP": 3.8, "Brent crude oil": 2.3}
draw_order = ["Japan - LNG", "U.S. - Henry Hub", "Canada - AECO", "France - PEG",
              "Netherlands - TTF", "Belgium - Zeebrugge", "Germany - BEB Hub",
              "UK - NBP", "Brent crude oil"]

FONT = "Liberation Sans"
x_enc = alt.X("date:T",
              scale=alt.Scale(domain=[alt.DateTime(year=2010, month=1, date=1),
                                      alt.DateTime(year=2016, month=4, date=5)]),
              axis=alt.Axis(title=None, format="%Y", grid=False,
                            values=[alt.DateTime(year=y, month=1, date=1) for y in YEAR_TICKS],
                            domainColor="#A6A6A6", domainWidth=1.3,
                            tickColor="#A6A6A6", tickWidth=1.3, tickSize=6,
                            labelFont=FONT, labelFontSize=24, labelColor="#222222",
                            labelPadding=9, labelFlush=False))
y_enc = alt.Y("value:Q", scale=alt.Scale(domain=[0, 25], nice=False),
              axis=alt.Axis(title=None, values=Y_TICKS, grid=True,
                            gridColor="#D9D9D9", gridWidth=1.3, domain=False,
                            ticks=False, labelFont=FONT, labelFontSize=24,
                            labelColor="#222222", labelPadding=22))
legend = alt.Legend(title=None, orient="none", legendX=-29, legendY=532,
                    direction="horizontal", columns=5, gridAlign="all",
                    symbolType="stroke", symbolSize=1764, symbolStrokeWidth=4,
                    labelFont=FONT, labelFontSize=18.5, labelColor="#000000",
                    labelOffset=4, labelLimit=400, columnPadding=103.5, rowPadding=2)
color_enc = alt.Color("series:N", scale=alt.Scale(domain=SERIES, range=COLORS),
                      legend=legend)

layers = []
for name in draw_order:
    interp = "step-after" if name == "Japan - LNG" else "linear"
    layers.append(
        alt.Chart(frames[name]).mark_line(strokeWidth=widths[name], interpolate=interp,
                                          clip=True, strokeJoin="round")
        .encode(x=x_enc, y=y_enc, color=color_enc)
    )

chart = alt.layer(*layers).properties(
    width=1589, height=474,
    autosize=alt.AutoSizeParams(type="none"),
    padding={"left": 51, "top": 12, "right": 0, "bottom": 128},
).configure_view(stroke=None).configure(font=FONT, background="white")

chart.save("out.html", embed_options={"renderer": "svg", "actions": False})
